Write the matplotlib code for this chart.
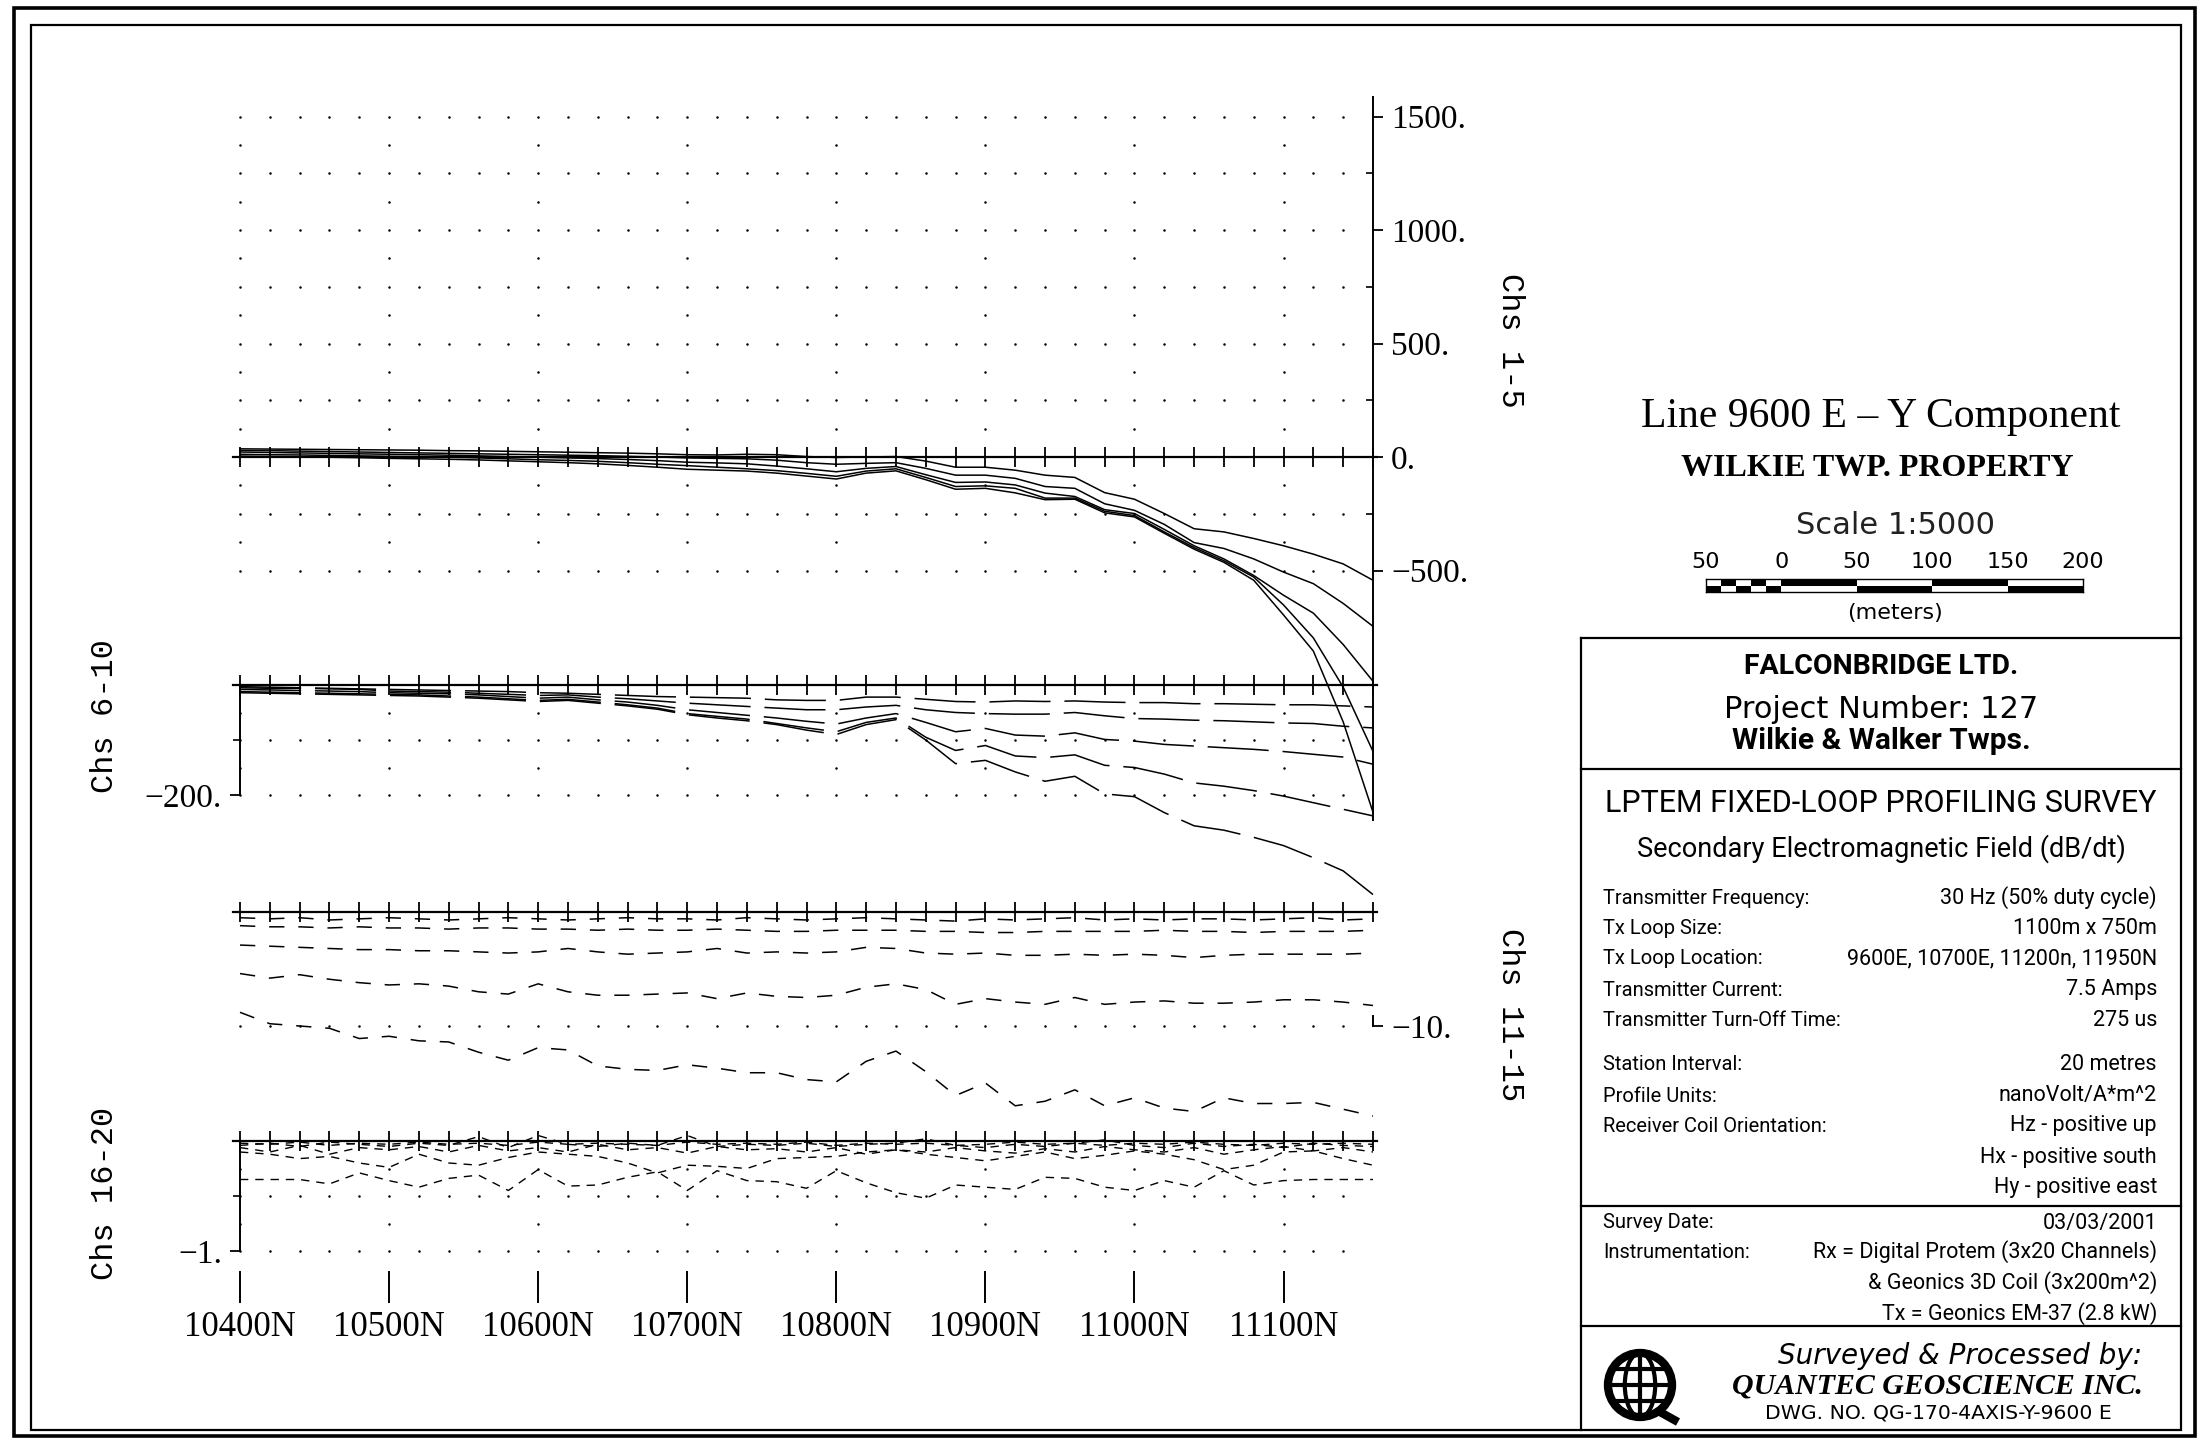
import numpy as np
import matplotlib
matplotlib.use("Agg")
import matplotlib.pyplot as plt
from matplotlib.patches import Rectangle, Circle, Ellipse

plt.rcParams['font.family'] = ['Liberation Serif', 'DejaVu Serif']
plt.rcParams['lines.scale_dashes'] = False

# stations along the line (every 20 m)
stations = np.arange(10400, 11161, 20)
label_stations = np.arange(10400, 11101, 100)
station_labels = ["10400N", "10500N", "10600N", "10700N",
                  "10800N", "10900N", "11000N", "11100N"]

# Chs 1-5
ch1 = [4, 2, 1, -1, -3, -6, -8, -10, -13, -17, -21, -25, -30, -37, -45, -54, -58, -62, -71, -84,
       -97, -71, -61, -100, -142, -138, -158, -188, -186, -246, -264, -336, -406, -464, -543,
       -696, -855, -1167, -1565]
ch2 = [12, 10, 9, 7, 5, 3, 1, -1, -4, -8, -12, -15, -19, -25, -32, -38, -45, -52, -60, -72,
       -85, -62, -52, -90, -130, -127, -138, -181, -181, -239, -258, -330, -399, -457, -529,
       -652, -797, -1014, -1297]
ch3 = [22, 20, 18, 16, 14, 12, 10, 8, 5, 2, -1, -4, -7, -11, -16, -23, -26, -30, -40, -52,
       -65, -50, -42, -78, -112, -110, -123, -159, -174, -232, -249, -319, -391, -449, -522,
       -609, -688, -826, -988]
ch4 = [29, 28, 26, 24, 22, 20, 18, 16, 14, 12, 10, 8, 6, 3, 0, -4, -6, -8, -14, -25,
       -32, -28, -25, -50, -80, -80, -94, -130, -138, -206, -235, -297, -377, -403, -449,
       -507, -558, -645, -746]
ch5 = [36, 35, 34, 33, 32, 31, 30, 28, 27, 25, 23, 21, 19, 17, 14, 10, 9, 12, 10, 2,
       -2, 0, 2, -18, -45, -45, -58, -80, -90, -157, -186, -249, -316, -330, -359,
       -391, -428, -471, -543]

# Chs 6-10
ch6 = [-14, -15, -16, -17, -18, -19, -20, -22, -24, -27, -30, -28, -33, -38, -44, -54, -60, -65,
       -72, -82, -90, -72, -63, -100, -143, -137, -158, -175, -166, -198, -203, -232, -256,
       -264, -277, -292, -314, -338, -381]
ch7 = [-12, -13, -14, -15, -16, -17, -18, -20, -22, -25, -28, -26, -31, -36, -42, -52, -57, -62,
       -70, -78, -85, -68, -60, -95, -119, -110, -129, -132, -127, -146, -150, -162, -178,
       -184, -192, -202, -214, -226, -238]
ch8 = [-8, -9, -10, -11, -12, -14, -15, -16, -18, -21, -24, -22, -27, -31, -37, -45, -50, -55,
       -60, -66, -71, -60, -52, -68, -85, -79, -91, -93, -87, -99, -102, -108, -111, -114,
       -117, -121, -126, -131, -144]
ch9 = [-5, -6, -6, -7, -8, -11, -12, -13, -15, -17, -19, -18, -22, -25, -29, -33, -36, -39,
       -42, -45, -45, -40, -37, -45, -50, -52, -53, -53, -50, -56, -61, -62, -64, -65, -67,
       -69, -70, -75, -78]
ch10 = [-3, -4, -5, -6, -7, -8, -9, -10, -11, -12, -14, -15, -17, -19, -21, -22, -23, -24,
        -27, -28, -28, -22, -22, -26, -30, -31, -29, -30, -29, -31, -32, -32, -34, -34, -35,
        -36, -36, -38, -40]

# Chs 11-15
ch11 = [-0.5, -0.6, -0.5, -0.7, -0.6, -0.5, -0.6, -0.7, -0.6, -0.5, -0.6, -0.7, -0.6, -0.5,
        -0.6, -0.6, -0.7, -0.5, -0.6, -0.7, -0.6, -0.5, -0.6, -0.7, -0.8, -0.6, -0.7, -0.6,
        -0.5, -0.7, -0.6, -0.7, -0.6, -0.6, -0.7, -0.6, -0.5, -0.7, -0.6]
ch12 = [-1.2, -1.3, -1.3, -1.4, -1.3, -1.4, -1.4, -1.5, -1.4, -1.4, -1.5, -1.5, -1.6, -1.5,
        -1.6, -1.6, -1.5, -1.6, -1.7, -1.7, -1.6, -1.6, -1.6, -1.7, -1.7, -1.8, -1.8, -1.7,
        -1.7, -1.7, -1.7, -1.6, -1.7, -1.7, -1.8, -1.7, -1.7, -1.7, -1.6]
ch13 = [-2.9, -3.0, -3.1, -3.2, -3.3, -3.3, -3.4, -3.4, -3.5, -3.6, -3.5, -3.2, -3.5, -3.7,
        -3.6, -3.5, -3.2, -3.6, -3.5, -3.6, -3.5, -3.1, -3.2, -3.6, -3.7, -3.6, -3.8, -3.8,
        -3.7, -3.8, -3.7, -3.8, -4.0, -3.8, -3.7, -3.7, -3.7, -3.7, -3.6]
ch14 = [-5.4, -5.8, -5.5, -5.9, -6.2, -6.4, -6.3, -6.5, -7.0, -7.2, -6.3, -7.0, -7.3, -7.3,
        -7.2, -7.1, -7.6, -7.1, -7.4, -7.5, -7.3, -6.6, -6.3, -6.8, -8.1, -7.6, -7.9, -8.1,
        -7.5, -8.1, -7.9, -7.8, -8.0, -8.0, -7.9, -7.7, -7.7, -7.9, -8.2]
ch15 = [-8.8, -9.8, -10.0, -10.2, -11.1, -10.9, -11.3, -11.4, -12.3, -13.0, -11.9, -12.1,
        -13.5, -13.8, -13.9, -13.4, -13.7, -14.1, -14.1, -14.7, -14.9, -13.1, -12.2, -14.0,
        -16.1, -15.0, -17.0, -16.6, -15.6, -17.0, -16.3, -17.2, -17.5, -16.3, -16.8, -16.8,
        -16.7, -17.3, -17.9]

# Chs 16-20
ch16 = [-0.02, -0.03, -0.01, -0.04, -0.02, -0.03, -0.01, -0.03, -0.02, -0.04, -0.01, -0.03,
        -0.02, -0.03, -0.04, -0.01, -0.03, -0.02, -0.03, -0.01, -0.04, -0.02, -0.03, -0.02,
        -0.04, -0.03, -0.01, -0.03, -0.02, -0.04, -0.02, -0.03, -0.01, -0.03, -0.04, -0.02,
        -0.03, -0.02, -0.03]
ch17 = [-0.04, -0.02, -0.05, -0.01, -0.03, -0.05, -0.02, -0.04, 0.04, -0.06, 0.05, -0.03,
        -0.05, -0.02, -0.04, 0.05, -0.05, -0.03, -0.04, -0.02, -0.05, -0.03, -0.02, 0.02,
        -0.04, -0.06, -0.03, -0.05, -0.02, 0.01, -0.04, -0.06, -0.02, -0.05, -0.03, -0.06,
        -0.02, -0.04, -0.05]
ch18 = [-0.06, -0.10, -0.04, -0.12, -0.06, -0.08, -0.05, -0.10, -0.04, -0.09, -0.06, -0.10,
        -0.03, -0.08, -0.06, -0.11, -0.05, -0.08, -0.07, -0.10, -0.06, -0.12, -0.08, -0.10,
        -0.06, -0.09, -0.11, -0.07, -0.10, -0.05, -0.08, -0.10, -0.06, -0.12, -0.08, -0.05,
        -0.09, -0.06, -0.10]
ch19 = [-0.10, -0.12, -0.16, -0.14, -0.20, -0.24, -0.12, -0.20, -0.22, -0.15, -0.10, -0.12,
        -0.14, -0.20, -0.29, -0.22, -0.23, -0.25, -0.16, -0.15, -0.14, -0.10, -0.08, -0.12,
        -0.15, -0.18, -0.14, -0.10, -0.16, -0.13, -0.09, -0.12, -0.17, -0.26, -0.22, -0.10,
        -0.09, -0.16, -0.22]
ch20 = [-0.35, -0.35, -0.35, -0.39, -0.29, -0.36, -0.42, -0.34, -0.31, -0.45, -0.26, -0.41,
        -0.40, -0.33, -0.28, -0.45, -0.27, -0.36, -0.37, -0.43, -0.27, -0.38, -0.47, -0.52,
        -0.40, -0.42, -0.44, -0.33, -0.34, -0.42, -0.45, -0.36, -0.42, -0.27, -0.40, -0.36,
        -0.35, -0.35, -0.35]

# axis ticks and background dot rows of each panel
p1_ticks = [1500, 1000, 500, 0, -500]
p1_minor = [1250, 750, 250, -250]
p1_dense = [1500, 1250, 1000, 750, 500, 250, -250, -500]
p1_sparse = [1375, 1125, 875, 625, 375, 125, -125, -375]
p2_dense, p2_sparse = [-100, -200], [-50, -150]
p3_dense = [-10]
p4_dense, p4_sparse = [-0.5, -1.0], [-0.25, -0.75]
dense_x = np.arange(10400, 11141, 20)
sparse_x = np.arange(10400, 11101, 100)

W, H = 2201, 1440
fig = plt.figure(figsize=(W / 100, H / 100), dpi=100)
fig.patch.set_facecolor("white")

X0, X1 = 10380, 11180
PX_M = 1.4908
left_px = 240 - (10400 - X0) * PX_M
width_px = (X1 - X0) * PX_M


def panel(zero_px, ppu, ylo, yhi):
    top = zero_px - yhi * ppu
    bot = zero_px - ylo * ppu
    ax = fig.add_axes([left_px / W, 1 - bot / H, width_px / W, (bot - top) / H])
    ax.set_xlim(X0, X1)
    ax.set_ylim(ylo, yhi)
    ax.patch.set_visible(False)
    for s in ("top", "left", "right"):
        ax.spines[s].set_visible(False)
    sp = ax.spines["bottom"]
    sp.set_position(("data", 0))
    sp.set_bounds(10395, 11163)
    sp.set_linewidth(1.6)
    ax.set_xticks(stations)
    ax.tick_params(axis="x", direction="inout", length=14, width=1.3, labelbottom=False)
    ax.set_yticks([])
    return ax


def dots(ax, dense, sparse):
    for y in dense:
        ax.plot(dense_x, np.full(len(dense_x), y), "o", ms=1.8, mew=0, color="k")
    for y in sparse:
        ax.plot(sparse_x, np.full(len(sparse_x), y), "o", ms=1.8, mew=0, color="k")


def side_axis(ax, side, bounds, ticks, labels, minor=()):
    sp = ax.spines[side]
    sp.set_visible(True)
    sp.set_position(("data", 11160 if side == "right" else 10400))
    sp.set_bounds(*bounds)
    sp.set_linewidth(1.4)
    ax.yaxis.set_ticks_position(side)
    ax.set_yticks(ticks, labels)
    ax.set_yticks(list(minor), minor=True)
    ax.tick_params(axis="y", which="major", direction="out", length=7, width=1.3,
                   labelsize=24, pad=6)
    ax.tick_params(axis="y", which="minor", direction="in" if side == "right" else "out",
                   length=5, width=1.2)


# panel 1: Chs 1-5
ax1 = panel(457, 0.227, -1650, 1650)
dots(ax1, p1_dense, p1_sparse)
for ch in (ch1, ch2, ch3, ch4, ch5):
    ax1.plot(stations, ch, color="k", lw=1.1, clip_on=False)
side_axis(ax1, "right", (-1600, 1585), p1_ticks,
          [f"{v}." if v >= 0 else f"\u2212{-v}." for v in p1_ticks], p1_minor)

# panel 2: Chs 6-10
ax2 = panel(685, 0.55, -420, 40)
dots(ax2, p2_dense, p2_sparse)
for ch in (ch6, ch7, ch8, ch9, ch10):
    ax2.plot(stations, ch, color="k", lw=1.1, ls=(0, (44, 10)), clip_on=False)
side_axis(ax2, "left", (-200, 0), [-200], ["\u2212200."], [-100])

# panel 3: Chs 11-15
ax3 = panel(912, 11.4, -20, 2)
dots(ax3, p3_dense, [])
for ch in (ch11, ch12, ch13, ch14, ch15):
    ax3.plot(stations, ch, color="k", lw=1.1, ls=(0, (11, 10)), clip_on=False)
side_axis(ax3, "right", (-10, -9.1), [-10], ["\u221210."])

# panel 4: Chs 16-20
ax4 = panel(1141, 110, -1.15, 0.2)
dots(ax4, p4_dense, p4_sparse)
for ch in (ch16, ch17, ch18, ch19, ch20):
    ax4.plot(stations, ch, color="k", lw=1.0, ls=(0, (6, 5)), clip_on=False)
side_axis(ax4, "left", (-1, 0), [-1], ["\u22121."], [-0.5])

# station labels along the bottom
axx = fig.add_axes([left_px / W, 1 - 1271 / H, width_px / W, 0.0001])
axx.set_xlim(X0, X1)
axx.patch.set_visible(False)
for s in axx.spines.values():
    s.set_visible(False)
axx.set_yticks([])
axx.set_xticks(label_stations, station_labels)
axx.tick_params(axis="x", direction="out", length=23, width=1.4, labelsize=25, pad=6)

# overlay in pixel coordinates for frame, labels and title block
ov = fig.add_axes([0, 0, 1, 1])
ov.set_xlim(0, W)
ov.set_ylim(H, 0)
ov.axis("off")
ov.add_patch(Rectangle((14, 8), 2181, 1428, fill=False, lw=2.6, ec="k"))
ov.add_patch(Rectangle((31, 25), 2150, 1405, fill=False, lw=1.6, ec="k"))
for y in (638, 769, 1206, 1326):
    ov.plot([1581, 2181], [y, y], color="k", lw=1.6)
ov.plot([1581, 1581], [638, 1430], color="k", lw=1.6)

mono = "Liberation Mono"
ov.text(1510, 340, "Chs 1-5", rotation=270, family=mono, fontsize=23, ha="center", va="center")
ov.text(105, 716, "Chs 6-10", rotation=90, family=mono, fontsize=23, ha="center", va="center")
ov.text(1510, 1015, "Chs 11-15", rotation=270, family=mono, fontsize=23, ha="center", va="center")
ov.text(105, 1193, "Chs 16-20", rotation=90, family=mono, fontsize=23, ha="center", va="center")

ov.text(1881, 417, "Line 9600 E \u2013 Y Component", fontsize=30, ha="center", va="center")
ov.text(1877, 468, "WILKIE TWP. PROPERTY", fontsize=23, weight="bold", ha="center", va="center")
ov.text(1895, 526, "Scale 1:5000", family="DejaVu Sans", fontsize=22, ha="center", va="center",
        color="#222222")
ov.text(1895, 613, "(meters)", family="DejaVu Sans", fontsize=16, ha="center", va="center")

# scale bar in metres
scale_ticks = [-50, 0, 50, 100, 150, 200]
check_edges = [-50, -40, -30, -20, -10]
big_edges = [0, 50, 100, 150]
axs = fig.add_axes([1706 / W, 1 - 592 / H, 377 / W, 13 / H])
axs.set_xlim(-50, 200)
axs.set_ylim(0, 2)
axs.patch.set_visible(False)
for s in axs.spines.values():
    s.set_linewidth(1.0)
axs.set_yticks([])
top_check = ["w" if i % 2 == 0 else "k" for i in range(len(check_edges))]
top_big = ["k" if i % 2 == 0 else "w" for i in range(len(big_edges))]
inv = {"k": "w", "w": "k"}
axs.bar(check_edges, 1, 10, bottom=1, align="edge", color=top_check, ec="none")
axs.bar(check_edges, 1, 10, bottom=0, align="edge", color=[inv[c] for c in top_check], ec="none")
axs.bar(big_edges, 1, 50, bottom=1, align="edge", color=top_big, ec="none")
axs.bar(big_edges, 1, 50, bottom=0, align="edge", color=[inv[c] for c in top_big], ec="none")
axs.set_xticks(scale_ticks, [str(abs(v)) for v in scale_ticks])
axs.tick_params(axis="x", bottom=False, labelbottom=False, top=True, labeltop=True,
                length=0, pad=5, labelsize=16)
for t in axs.get_xticklabels():
    t.set_fontfamily("DejaVu Sans")

sans = "Roboto"
ov.text(1881, 667, "FALCONBRIDGE LTD.", family=sans, weight="bold", fontsize=20.5,
        ha="center", va="center")
ov.text(1881, 709, "Project Number: 127", family="DejaVu Sans", fontsize=22,
        ha="center", va="center")
ov.text(1881, 741, "Wilkie & Walker Twps.", family=sans, weight="bold", fontsize=21.5,
        ha="center", va="center")
ov.text(1881, 803, "LPTEM FIXED-LOOP PROFILING SURVEY", family=sans, fontsize=22,
        ha="center", va="center")
ov.text(1881, 849, "Secondary Electromagnetic Field (dB/dt)", family=sans, fontsize=19.5,
        ha="center", va="center")

info_rows = [
    (898, "Transmitter Frequency:", "30 Hz (50% duty cycle)"),
    (928, "Tx Loop Size:", "1100m x 750m"),
    (959, "Tx Loop Location:", "9600E, 10700E, 11200n, 11950N"),
    (990, "Transmitter Current:", "7.5 Amps"),
    (1020, "Transmitter Turn-Off Time:", "275 us"),
    (1065, "Station Interval:", "20 metres"),
    (1096, "Profile Units:", "nanoVolt/A*m^2"),
    (1126, "Receiver Coil Orientation:", "Hz - positive up"),
    (1157, "", "Hx - positive south"),
    (1188, "", "Hy - positive east"),
    (1223, "Survey Date:", "03/03/2001"),
    (1252, "Instrumentation:", "Rx = Digital Protem (3x20 Channels)"),
    (1283, "", "& Geonics 3D Coil (3x200m^2)"),
    (1314, "", "Tx = Geonics EM-37 (2.8 kW)"),
]
for y, lab, val in info_rows:
    if lab:
        ov.text(1603, y, lab, family=sans, fontsize=14.5, ha="left", va="center")
    ov.text(2157, y, val, family=sans, fontsize=15.5, ha="right", va="center")

ov.text(1960, 1356, "Surveyed & Processed by:", family="DejaVu Sans", style="italic",
        fontsize=20, ha="center", va="center")
ov.text(1937, 1386, "QUANTEC GEOSCIENCE INC.", weight="bold", style="italic",
        fontsize=21.5, ha="center", va="center")
ov.text(1938, 1413, "DWG. NO. QG-170-4AXIS-Y-9600 E", family="DejaVu Sans", fontsize=14.7,
        ha="center", va="center")

# globe logo
gx, gy, gr = 1640, 1385, 32
ov.add_patch(Circle((gx, gy), gr, fill=False, lw=6, ec="k"))
ov.add_patch(Ellipse((gx, gy), gr * 0.95, gr * 2, fill=False, lw=3, ec="k"))
ov.plot([gx, gx], [gy - gr, gy + gr], color="k", lw=3)
ov.plot([gx - gr, gx + gr], [gy, gy], color="k", lw=3)
for dy in (-0.5, 0.5):
    hw = gr * np.sqrt(1 - dy ** 2)
    ov.plot([gx - hw, gx + hw], [gy + dy * gr, gy + dy * gr], color="k", lw=3)
ov.plot([gx + 20, gx + 38], [gy + 27, gy + 37], color="k", lw=6, solid_capstyle="butt")

fig.savefig("out.png", dpi=100, facecolor="white")
